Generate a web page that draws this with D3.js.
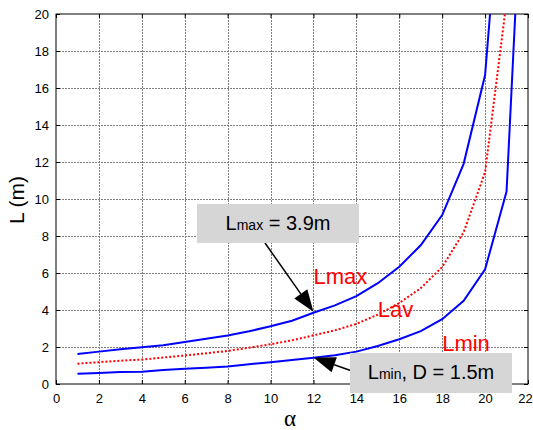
<!DOCTYPE html>
<html><head><meta charset="utf-8">
<script src="https://cdn.jsdelivr.net/npm/d3@7/dist/d3.min.js"></script>
<style>body{margin:0;background:#fff}svg{display:block}</style>
</head><body>
<script>
const alpha = [1,2,3,4,5,6,7,8,9,10,11,12,13,14,15,16,17,18,19,20,21,22];
const Lmax = [1.62,1.75,1.88,1.98,2.1,2.27,2.44,2.62,2.85,3.12,3.42,3.85,4.25,4.75,5.45,6.34,7.5,9.13,11.9,16.7,31];
const Lav  = [1.1,1.18,1.26,1.32,1.43,1.54,1.66,1.79,1.96,2.15,2.36,2.63,2.9,3.25,3.75,4.38,5.18,6.32,8.2,11.45,20.7];
const Lmin = [0.55,0.6,0.65,0.66,0.76,0.82,0.88,0.95,1.07,1.18,1.3,1.42,1.55,1.75,2.05,2.42,2.86,3.5,4.5,6.2,10.4,34];
const xTicks = [0,2,4,6,8,10,12,14,16,18,20,22];
const yTicks = [0,2,4,6,8,10,12,14,16,18,20];

const W = 533, H = 430;
const m = {l:56, r:528, t:14, b:384};
const svg = d3.select("body").append("svg").attr("width",W).attr("height",H)
  .style("font-family","'Liberation Sans', Arial, sans-serif");
const x = d3.scaleLinear().domain([0,22]).range([m.l,m.r]);
const y = d3.scaleLinear().domain([0,20]).range([m.b,m.t]);

// grid
const grid = svg.append("g").attr("stroke","#6a6a6a").attr("stroke-width",1).attr("stroke-dasharray","2,1").attr("opacity",0.85);
xTicks.slice(1,-1).forEach(v=>grid.append("line").attr("x1",Math.round(x(v))+0.5).attr("x2",Math.round(x(v))+0.5).attr("y1",m.t).attr("y2",m.b));
yTicks.slice(1,-1).forEach(v=>grid.append("line").attr("y1",Math.round(y(v))+0.5).attr("y2",Math.round(y(v))+0.5).attr("x1",m.l).attr("x2",m.r));

// axes
const ax = svg.append("g").attr("transform",`translate(0,${m.b})`)
  .call(d3.axisBottom(x).tickValues(xTicks).tickSize(-4).tickPadding(10).tickFormat(d3.format("d")));
const ay = svg.append("g").attr("transform",`translate(${m.l},0)`)
  .call(d3.axisLeft(y).tickValues(yTicks).tickSize(-4).tickPadding(7).tickFormat(d3.format("d")));
const axTop = svg.append("g").attr("transform",`translate(0,${m.t})`)
  .call(d3.axisTop(x).tickValues(xTicks).tickSize(-4).tickFormat(""));
const ayR = svg.append("g").attr("transform",`translate(${m.r},0)`)
  .call(d3.axisRight(y).tickValues(yTicks).tickSize(-4).tickFormat(""));
[ax,ay,axTop,ayR].forEach(g=>{g.select(".domain").remove();g.selectAll("line").attr("stroke","#000");});
svg.selectAll(".tick text").attr("font-size",13).attr("fill","#000").style("font-family","'Liberation Sans', Arial, sans-serif");
ax.selectAll(".tick text").filter(d=>d===22).attr("dx",-3);
svg.append("rect").attr("x",m.l).attr("y",m.t).attr("width",m.r-m.l).attr("height",m.b-m.t)
  .attr("fill","none").attr("stroke","#000").attr("stroke-width",1);

// clip
svg.append("clipPath").attr("id","clip").append("rect").attr("x",m.l).attr("y",m.t).attr("width",m.r-m.l).attr("height",m.b-m.t);
const line = d3.line().x((d,i)=>x(alpha[i])).y(d=>y(d));
const plot = svg.append("g").attr("clip-path","url(#clip)");
plot.append("path").datum(Lmax).attr("d",line).attr("fill","none").attr("stroke","#0000ff").attr("stroke-width",2);
plot.append("path").datum(Lmin).attr("d",line).attr("fill","none").attr("stroke","#0000ff").attr("stroke-width",2);
plot.append("path").datum(Lav).attr("d",line).attr("fill","none").attr("stroke","#ff0000").attr("stroke-width",2).attr("stroke-dasharray","2,2");

// axis labels
svg.append("text").attr("transform","translate(24,200) rotate(-90)").attr("text-anchor","middle")
  .attr("font-size",21).text("L (m)");
svg.append("text").attr("x",290).attr("y",426).attr("text-anchor","middle")
  .attr("font-size",23).style("font-family","'Liberation Serif', serif").text("α");

// red labels
const red = [["Lmax",12.0,5.4],["Lav",15,3.6],["Lmin",18.0,1.8]];
red.forEach(([t,a,l])=>svg.append("text").attr("x",x(a)).attr("y",y(l)).attr("fill","#ff0000").attr("font-size",22).text(t));

// arrows
function arrow(x1,y1,x2,y2){
  const ang = Math.atan2(y2-y1,x2-x1), len=22, wid=8;
  const bx = x2-len*Math.cos(ang), by = y2-len*Math.sin(ang);
  svg.append("line").attr("x1",x1).attr("y1",y1).attr("x2",bx).attr("y2",by).attr("stroke","#000").attr("stroke-width",1.5);
  const px=-Math.sin(ang)*wid, py=Math.cos(ang)*wid;
  svg.append("path").attr("d",`M${x2},${y2}L${bx+px},${by+py}L${bx-px},${by-py}Z`).attr("fill","#000");
}
arrow(265,243,x(12),y(3.9));
arrow(352,371,x(12),y(1.43));

// annotation boxes
svg.append("rect").attr("x",197).attr("y",204).attr("width",162).attr("height",39).attr("fill","#d6d6d6");
const t1 = svg.append("text").attr("x",278).attr("y",230).attr("text-anchor","middle").attr("font-size",20);
t1.append("tspan").text("L");
t1.append("tspan").attr("font-size",14).text("max");
t1.append("tspan").text(" = 3.9m");
svg.append("rect").attr("x",350).attr("y",353).attr("width",162).attr("height",40).attr("fill","#d6d6d6");
const t2 = svg.append("text").attr("x",431).attr("y",379).attr("text-anchor","middle").attr("font-size",20);
t2.append("tspan").text("L");
t2.append("tspan").attr("font-size",14).text("min");
t2.append("tspan").text(", D = 1.5m");
</script>
</body></html>
